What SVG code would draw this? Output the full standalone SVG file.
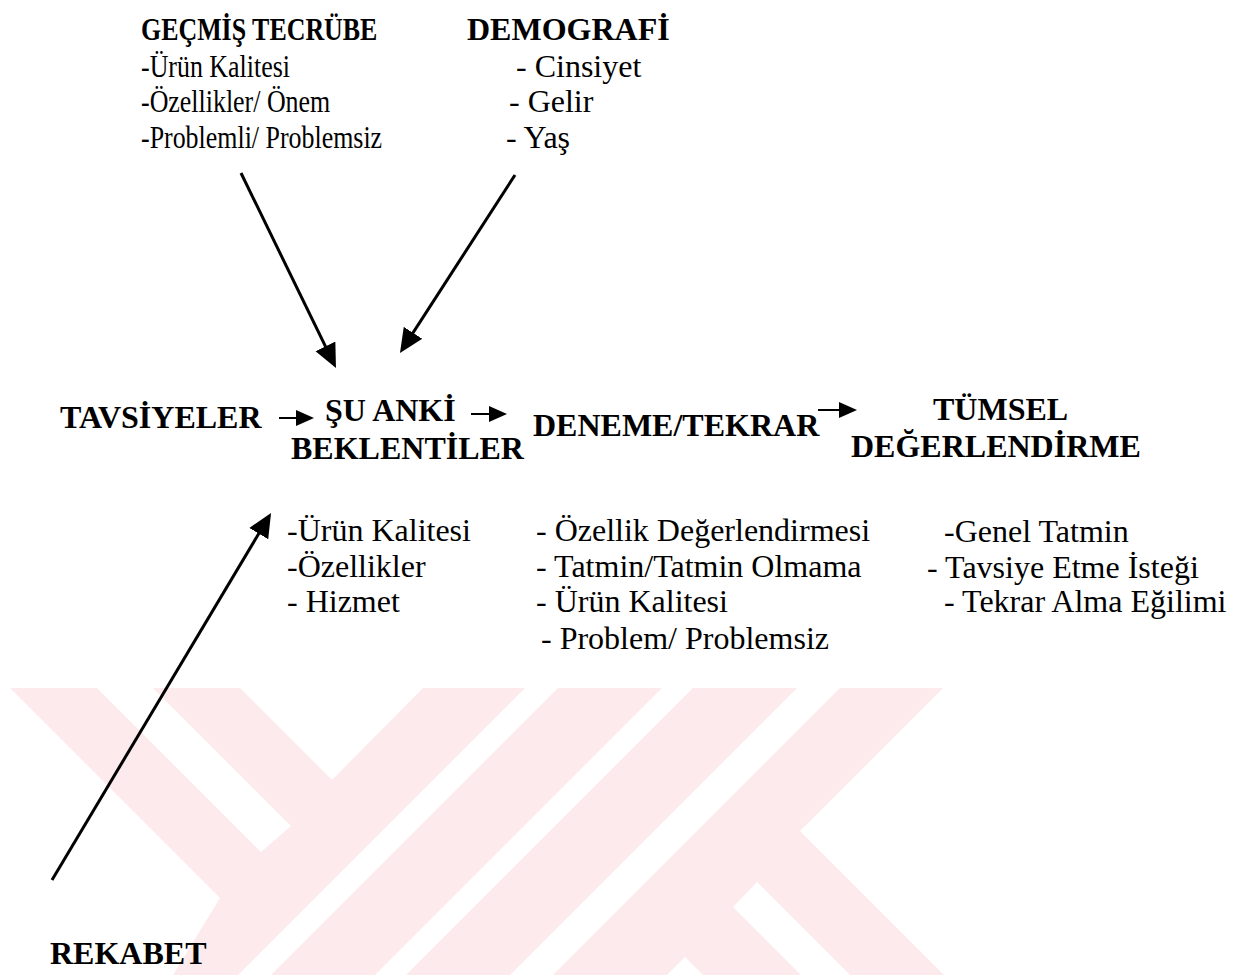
<svg xmlns="http://www.w3.org/2000/svg" width="1247" height="975" viewBox="0 0 1247 975">
<style>
text{font-family:"Liberation Serif","Times New Roman",serif;fill:#000;font-size:32px}
.b{font-weight:bold}
.wm{fill:#fdeaed}
.wh{fill:#fff}
.con{stroke:#000;stroke-width:3;fill:none}
.sm{stroke:#000;stroke-width:2;fill:none}
</style>
<defs>
<marker id="big" markerUnits="userSpaceOnUse" markerWidth="24" markerHeight="24" viewBox="0 0 24 24" refX="12" refY="12" orient="auto">
<path d="M0,1 L24,12 L0,23 Z" fill="#000"/>
</marker>
<marker id="small" markerUnits="userSpaceOnUse" markerWidth="18" markerHeight="16" viewBox="0 0 18 16" refX="4" refY="8" orient="auto">
<path d="M0,0 L18,8 L0,16 Z" fill="#000"/>
</marker>
</defs>
<rect width="1247" height="975" fill="#fff"/>
<g id="watermark">
<polygon class="wm" points="10,688 240,688 332,780 423,688 525,688 238,975 173,975 220,898"/>
<polygon class="wm" points="558,688 662,688 375,975 271,975"/>
<polygon class="wm" points="693,688 797,688 510,975 406,975"/>
<polygon class="wm" points="840,688 943,688 800,831 944,975 553,975"/>
<polygon class="wh" points="97,688 153,688 291,826 261,852"/>
<polygon class="wh" points="733,907 757,882 850,975 801,975"/>
<polygon class="wh" points="667,975 685,957 703,975"/>
</g>
<g id="connectors">
<line class="con" x1="241" y1="173" x2="330.7" y2="357.2" marker-end="url(#big)"/>
<line class="con" x1="515" y1="175" x2="406.5" y2="342.9" marker-end="url(#big)"/>
<line class="con" x1="52" y1="880" x2="264.9" y2="523.3" marker-end="url(#big)"/>
<line class="sm" x1="279" y1="418" x2="300" y2="418" marker-end="url(#small)"/>
<line class="sm" x1="471" y1="414" x2="493" y2="414" marker-end="url(#small)"/>
<line class="sm" x1="818" y1="410" x2="843" y2="410" marker-end="url(#small)"/>
</g>
<g id="gecmis-tecrube" transform="translate(141,0) scale(0.81,1)">
<text class="b" x="0" y="40">GEÇMİŞ TECRÜBE</text>
<text x="0" y="77">-Ürün Kalitesi</text>
<text x="0" y="112">-Özellikler/ Önem</text>
<text x="0" y="148">-Problemli/ Problemsiz</text>
</g>
<g id="demografi">
<text class="b" x="467" y="40">DEMOGRAFİ</text>
<text x="516" y="77">- Cinsiyet</text>
<text x="509" y="112">- Gelir</text>
<text x="506" y="148">- Yaş</text>
</g>
<g id="tavsiyeler">
<text class="b" x="60" y="428">TAVSİYELER</text>
</g>
<g id="su-anki-beklentiler">
<text class="b" x="325" y="421">ŞU ANKİ</text>
<text class="b" x="291" y="459">BEKLENTİLER</text>
</g>
<g id="su-anki-list">
<text x="287" y="541">-Ürün Kalitesi</text>
<text x="287" y="577">-Özellikler</text>
<text x="287" y="612">- Hizmet</text>
</g>
<g id="deneme-tekrar">
<text class="b" x="533" y="436">DENEME/TEKRAR</text>
</g>
<g id="deneme-list">
<text x="536" y="541">- Özellik Değerlendirmesi</text>
<text x="536" y="577">- Tatmin/Tatmin Olmama</text>
<text x="536" y="612">- Ürün Kalitesi</text>
<text x="541" y="649">- Problem/ Problemsiz</text>
</g>
<g id="tumsel-degerlendirme">
<text class="b" x="933" y="420">TÜMSEL</text>
<text class="b" x="851" y="457">DEĞERLENDİRME</text>
</g>
<g id="tumsel-list">
<text x="944" y="542">-Genel Tatmin</text>
<text x="927" y="578">- Tavsiye Etme İsteği</text>
<text x="944" y="612">- Tekrar Alma Eğilimi</text>
</g>
<g id="rekabet">
<text class="b" x="50" y="964">REKABET</text>
</g>
</svg>
